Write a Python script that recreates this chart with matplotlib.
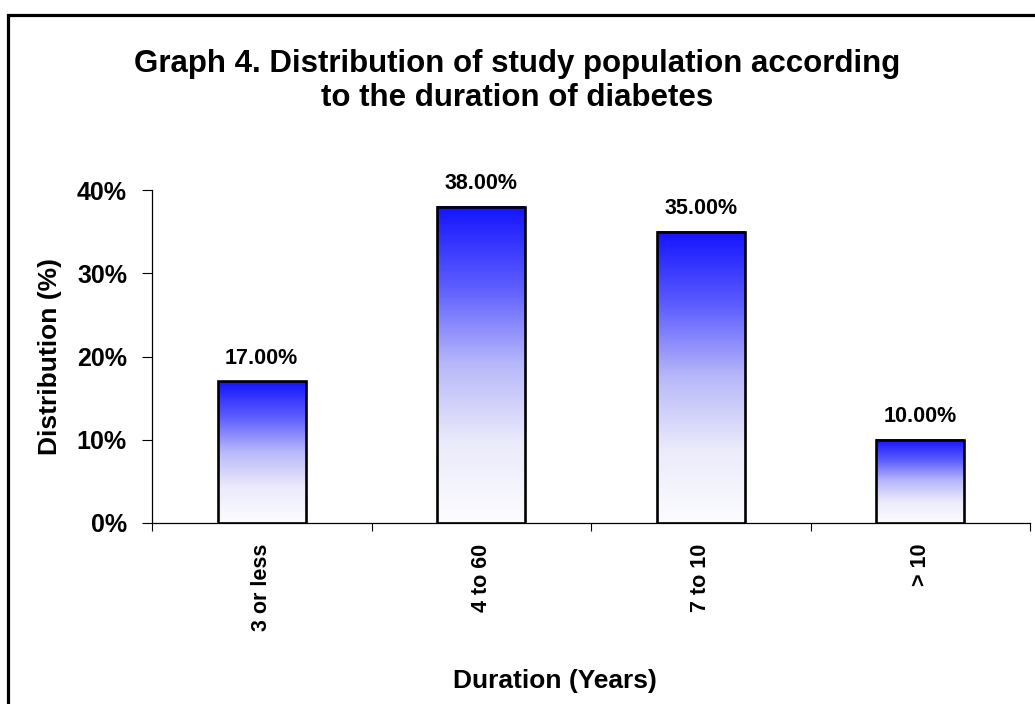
import numpy as np
import matplotlib
matplotlib.use("Agg")
import matplotlib.pyplot as plt
from matplotlib.colors import LinearSegmentedColormap
from matplotlib.patches import Rectangle
from matplotlib.ticker import FuncFormatter

plt.rcParams['font.family'] = ['Liberation Sans', 'DejaVu Sans']
plt.rcParams['font.weight'] = 'bold'

# data
categories = ["3 or less", "4 to 60", "7 to 10", "> 10"]
values = [17.0, 38.0, 35.0, 10.0]
yticks = [0, 10, 20, 30, 40]

fig = plt.figure(figsize=(10.35, 7.04), dpi=100)
ax = fig.add_axes([152 / 1035, 1 - 523 / 704, 878 / 1035, 333 / 704])

# blue -> white gradient (top -> bottom)
cmap = LinearSegmentedColormap.from_list(
    "bluefade",
    [(0.0, "#fcfcff"), (0.25, "#ebebfb"), (0.5, "#b8b8fa"),
     (0.75, "#5c5cff"), (1.0, "#1414ff")])
grad = np.linspace(0, 1, 256).reshape(-1, 1)

x = np.arange(len(categories))
width = 0.4
bars = ax.bar(x, values, width=width, color="none", edgecolor="black",
              linewidth=1.9, zorder=3)
for b in bars:
    x0, y0 = b.get_x(), b.get_y()
    w, h = b.get_width(), b.get_height()
    ax.imshow(grad, cmap=cmap, origin="lower", aspect="auto",
              extent=(x0, x0 + w, y0, y0 + h), zorder=2,
              interpolation="bilinear")
    ax.text(x0 + w / 2, h + 1.5, f"{h:.2f}%", ha="center", va="bottom",
            fontsize=15.5, fontweight="bold")

ax.set_xlim(-0.5, len(categories) - 0.5)
ax.set_ylim(0, 40)
ax.set_yticks(yticks)
ax.yaxis.set_major_formatter(FuncFormatter(lambda v, p: f"{v:.0f}%"))
ax.tick_params(axis="y", length=7, width=0.8, pad=11, labelsize=18)

ax.set_xticks(x)
ax.set_xticklabels(categories, rotation=90, fontsize=15.5, fontweight="bold")
ax.set_xticks(np.arange(-0.5, len(categories)), minor=True)
ax.tick_params(axis="x", which="major", length=0, pad=15)
ax.tick_params(axis="x", which="minor", length=6, width=0.8)

for s in ["top", "right"]:
    ax.spines[s].set_visible(False)
for s in ["left", "bottom"]:
    ax.spines[s].set_linewidth(0.9)

ax.set_ylabel("Distribution (%)", fontsize=19, fontweight="bold")
ax.yaxis.set_label_coords((62 - 152) / 878, 0.5)
ax.set_xlabel("Duration (Years)", fontsize=19, fontweight="bold")
ax.xaxis.set_label_coords((555 - 152) / 878, -(669 - 523) / 333)

fig.text(0.5, 1 - 81 / 704,
         "Graph 4. Distribution of study population according\nto the duration of diabetes",
         ha="center", va="center", fontsize=22.5, fontweight="bold",
         linespacing=1.2)

# outer frame
fig.patches.append(Rectangle((8 / 1035, -0.05), 1.1, 1 - 15 / 704 + 0.05,
                             transform=fig.transFigure, fill=False,
                             edgecolor="black", linewidth=2.3))

fig.savefig("out.png", dpi=100)
